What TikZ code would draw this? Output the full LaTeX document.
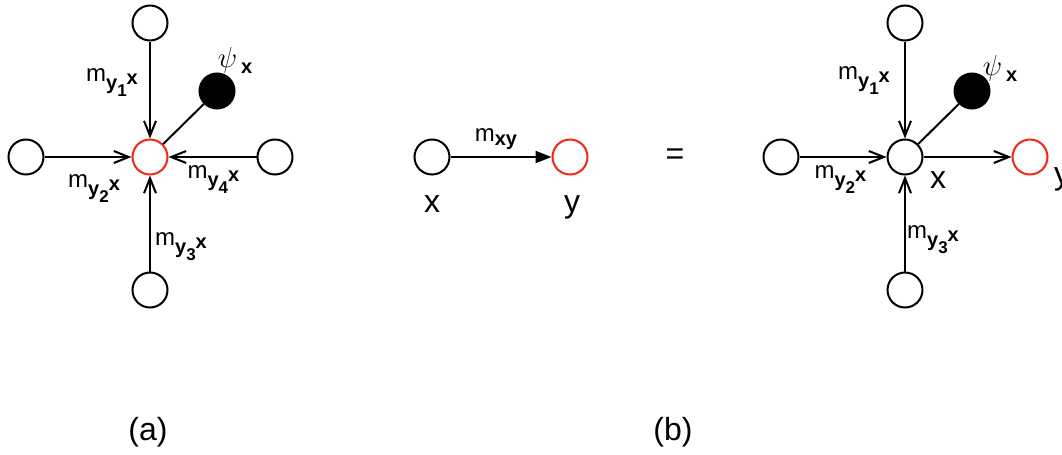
\documentclass[tikz,border=0pt]{standalone}
\usepackage{fontspec}
\setmainfont{Liberation Sans}
\usepackage{tikz}
\usetikzlibrary{arrows.meta, positioning}
\definecolor{msgred}{RGB}{240,40,20}

\newcommand{\subfont}{\fontsize{10}{12}\selectfont\bfseries}
\newcommand{\digfont}{\fontsize{8.5}{10}\selectfont\bfseries}
\newcommand{\mlab}[1]{m{\subfont\raisebox{-4pt}{y}\raisebox{-7.5pt}{\digfont #1}\raisebox{-1.5pt}{x}}}
\newcommand{\psilab}{{\fontsize{15}{18}\selectfont$\psi$}\,\raisebox{-3pt}{\subfont x}}

\begin{document}
\begin{tikzpicture}[
    x=0.5pt, y=-0.5pt,
    on grid,
    font=\fontsize{12}{14}\selectfont,
    var/.style={circle, draw, line width=1pt, minimum size=17.5pt, inner sep=0pt},
    target/.style={var, draw=msgred},
    factor/.style={var, fill=black},
    big/.style={font=\fontsize{16}{19}\selectfont},
    line/.style={draw, line width=1pt, -{Straight Barb[length=7.5pt, width=6pt]}},
    sendline/.style={draw, line width=1pt, -{Triangle[length=8pt, width=6pt]}}
]
    \useasboundingbox (0,0) rectangle (1062,455);

    % (a) incoming messages
    \node [target] (xa) at (150,157) {};
    \node [var, above=67pt of xa] (y1a) {};
    \node [var, left=62pt of xa] (y2a) {};
    \node [var, below=66.5pt of xa] (y3a) {};
    \node [var, right=62.5pt of xa] (y4a) {};
    \node [factor, above right=33pt and 33.5pt of xa] (fa) {};
    \node [above right=15pt and 9pt of fa] (psia) {\psilab};

    \draw [line] (y1a) -- node[pos=0.42, xshift=-19pt] {\mlab{1}} (xa);
    \draw [line] (y2a) -- node[pos=0.57, yshift=-16pt] {\mlab{2}} (xa);
    \draw [line] (y3a) -- node[pos=0.26, xshift=15.5pt] {\mlab{3}} (xa);
    \draw [line] (y4a) -- node[pos=0.49, yshift=-11.5pt] {\mlab{4}} (xa);
    \draw [line width=1pt] (xa) -- (fa);

    % (b) single message
    \node [var] (xb) at (432,157) {};
    \node [target, right=69pt of xb] (yb) {};
    \draw [sendline] (xb) -- node[pos=0.45, yshift=9pt] {m{\subfont\raisebox{-2pt}{xy}}} (yb);
    \node [big, anchor=base] (xlabb) at (432,212) {x};
    \node [big, anchor=base] (ylabb) at (572,212) {y};

    \node [big] (eq) at (675,157) {=};

    % (b) expanded
    \node [var] (xc) at (905,157) {};
    \node [var, above=67pt of xc] (y1c) {};
    \node [var, left=62pt of xc] (y2c) {};
    \node [var, below=66.5pt of xc] (y3c) {};
    \node [target, right=62.5pt of xc] (yc) {};
    \node [factor, above right=33pt and 33.5pt of xc] (fc) {};
    \node [above right=11pt and 14pt of fc] (psic) {\psilab};

    \draw [line] (y1c) -- node[pos=0.40, xshift=-20.5pt] {\mlab{1}} (xc);
    \draw [line] (y2c) -- node[pos=0.47, yshift=-11.5pt] {\mlab{2}} (xc);
    \draw [line] (y3c) -- node[pos=0.33, xshift=14pt] {\mlab{3}} (xc);
    \draw [line] (xc) -- (yc);
    \draw [line width=1pt] (xc) -- (fc);
    \node [big, anchor=base] (xlabc) at (938,188) {x};
    \node [big, anchor=base west] (ylabc) at (1047,184) {y};

    % captions
    \node [big] (capa) at (148,432) {(a)};
    \node [big] (capb) at (673,432) {(b)};

\end{tikzpicture}
\end{document}
